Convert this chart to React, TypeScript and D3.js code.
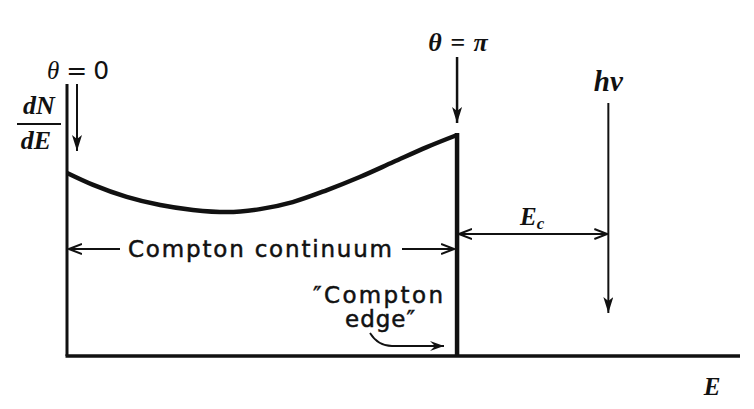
import React, {useEffect, useRef} from "react";
import * as d3 from "d3";

// Compton spectrum (photon energy hv = 662 keV, edge at 477 keV)
const energyKeV = [0, 32, 73, 114, 154, 196, 236, 276, 318, 358, 399, 440, 477];
const countRate = [0.673, 0.629, 0.585, 0.555, 0.537, 0.529, 0.540, 0.566, 0.610, 0.658, 0.713, 0.768, 0.8125];
const photonEnergy = 662;
const comptonEdge = 477;
const axisMaxE = 823;
const axisMaxY = 1.0;

const serif = "'Liberation Serif', 'DejaVu Serif', serif";
const sans = "'DejaVu Sans', 'Liberation Sans', sans-serif";

export default function App() {
    const svgRef = useRef<SVGSVGElement>(null);
    const width = 754;
    const height = 409;

    useEffect(() => {
        const svg = d3.select(svgRef.current);
        svg.selectAll("*").remove();

        const x = d3.scaleLinear().domain([0, axisMaxE]).range([67, 740]);
        const y = d3.scaleLinear().domain([0, axisMaxY]).range([356, 84]);

        const defs = svg.append("defs");
        // filled narrow arrowhead
        defs.append("marker")
            .attr("id", "solid")
            .attr("viewBox", "0 0 16 10")
            .attr("refX", 16).attr("refY", 5)
            .attr("markerWidth", 16).attr("markerHeight", 10)
            .attr("markerUnits", "userSpaceOnUse")
            .attr("orient", "auto")
            .append("path")
            .attr("d", "M0,0 L16,5 L0,10 L4,5 Z")
            .attr("fill", "#111");
        // open V arrowhead
        defs.append("marker")
            .attr("id", "open")
            .attr("viewBox", "0 0 14 12")
            .attr("refX", 13).attr("refY", 6)
            .attr("markerWidth", 14).attr("markerHeight", 12)
            .attr("markerUnits", "userSpaceOnUse")
            .attr("orient", "auto-start-reverse")
            .append("path")
            .attr("d", "M0,1 L13,6 L0,11")
            .attr("fill", "none")
            .attr("stroke", "#111")
            .attr("stroke-width", 2);
        defs.append("marker")
            .attr("id", "barb")
            .attr("viewBox", "0 0 14 10")
            .attr("refX", 14).attr("refY", 5)
            .attr("markerWidth", 14).attr("markerHeight", 10)
            .attr("markerUnits", "userSpaceOnUse")
            .attr("orient", "auto")
            .append("path")
            .attr("d", "M0,0 L14,5 L0,10 L5,5 Z")
            .attr("fill", "#111");

        const g = svg.append("g");

        // axes
        g.append("line")
            .attr("x1", x(0)).attr("x2", x(0))
            .attr("y1", y(axisMaxY)).attr("y2", y(0))
            .attr("stroke", "#111").attr("stroke-width", 3);
        g.append("line")
            .attr("x1", x(0) - 1.5).attr("x2", x(axisMaxE))
            .attr("y1", y(0)).attr("y2", y(0))
            .attr("stroke", "#111").attr("stroke-width", 3.5);

        // continuum
        const data = energyKeV.map((e, i) => ({e, v: countRate[i]}));
        const line = d3.line<{e: number; v: number}>()
            .x(d => x(d.e))
            .y(d => y(d.v))
            .curve(d3.curveMonotoneX);
        g.append("path")
            .datum(data)
            .attr("d", line)
            .attr("fill", "none")
            .attr("stroke", "#111")
            .attr("stroke-width", 4.5);

        // compton edge drop
        const last = data[data.length - 1];
        g.append("line")
            .attr("x1", x(comptonEdge)).attr("x2", x(comptonEdge))
            .attr("y1", y(last.v) - 2).attr("y2", y(0))
            .attr("stroke", "#111").attr("stroke-width", 4.5);

        // theta = 0 arrow
        g.append("line")
            .attr("x1", x(0) + 10).attr("x2", x(0) + 10)
            .attr("y1", 84).attr("y2", 151)
            .attr("stroke", "#111").attr("stroke-width", 2)
            .attr("marker-end", "url(#solid)");
        const t0 = g.append("text").attr("x", 47).attr("y", 79)
            .attr("font-size", 25).attr("fill", "#111");
        t0.append("tspan").attr("font-family", serif).attr("font-style", "italic").text("θ");
        t0.append("tspan").attr("font-family", sans).attr("dx", 7).text("=");
        t0.append("tspan").attr("font-family", sans).attr("dx", 6).text("0");

        // dN/dE
        g.append("text").attr("x", 39).attr("y", 114)
            .attr("text-anchor", "middle")
            .attr("font-family", serif).attr("font-style", "italic").attr("font-weight", "bold")
            .attr("font-size", 26).attr("fill", "#111").text("dN");
        g.append("line").attr("x1", 17).attr("x2", 61).attr("y1", 124).attr("y2", 124)
            .attr("stroke", "#111").attr("stroke-width", 2);
        g.append("text").attr("x", 36).attr("y", 149)
            .attr("text-anchor", "middle")
            .attr("font-family", serif).attr("font-style", "italic").attr("font-weight", "bold")
            .attr("font-size", 26).attr("fill", "#111").text("dE");

        // theta = pi arrow
        g.append("line")
            .attr("x1", x(comptonEdge)).attr("x2", x(comptonEdge))
            .attr("y1", 57).attr("y2", 123)
            .attr("stroke", "#111").attr("stroke-width", 2.5)
            .attr("marker-end", "url(#solid)");
        g.append("text").attr("x", x(comptonEdge) + 1).attr("y", 51)
            .attr("text-anchor", "middle")
            .attr("font-family", serif).attr("font-style", "italic").attr("font-weight", "bold")
            .attr("font-size", 26).attr("fill", "#111")
            .attr("word-spacing", 2).text("θ = π");

        // h nu arrow
        g.append("line")
            .attr("x1", x(photonEnergy)).attr("x2", x(photonEnergy))
            .attr("y1", 103).attr("y2", 313)
            .attr("stroke", "#111").attr("stroke-width", 2)
            .attr("marker-end", "url(#solid)");
        g.append("text").attr("x", x(photonEnergy) + 0).attr("y", 91)
            .attr("text-anchor", "middle")
            .attr("font-family", serif).attr("font-style", "italic").attr("font-weight", "bold")
            .attr("font-size", 29).attr("fill", "#111").text("hν");

        // E_c
        g.append("line")
            .attr("x1", x(comptonEdge) + 2).attr("x2", x(photonEnergy) - 1)
            .attr("y1", 234).attr("y2", 234)
            .attr("stroke", "#111").attr("stroke-width", 2)
            .attr("marker-start", "url(#open)")
            .attr("marker-end", "url(#open)");
        const ec = g.append("text").attr("x", 520).attr("y", 225)
            .attr("font-family", serif).attr("font-style", "italic").attr("font-weight", "bold")
            .attr("font-size", 25).attr("fill", "#111");
        ec.append("tspan").text("E");
        ec.append("tspan").attr("font-size", 17).attr("dy", 4).text("c");

        // Compton continuum
        g.append("line")
            .attr("x1", x(0) + 2).attr("x2", 120)
            .attr("y1", 249).attr("y2", 249)
            .attr("stroke", "#111").attr("stroke-width", 2)
            .attr("marker-start", "url(#open)");
        g.append("line")
            .attr("x1", 402).attr("x2", x(comptonEdge) - 3)
            .attr("y1", 249).attr("y2", 249)
            .attr("stroke", "#111").attr("stroke-width", 2)
            .attr("marker-end", "url(#open)");
        g.append("text").attr("x", 128).attr("y", 257)
            .attr("font-family", sans).attr("font-size", 23).attr("fill", "#111")
            .attr("stroke", "#111").attr("stroke-width", 0.5)
            .attr("textLength", 264).attr("lengthAdjust", "spacing")
            .text("Compton continuum");

        // "Compton edge"
        g.append("text").attr("x", 313).attr("y", 303)
            .attr("font-family", sans).attr("font-size", 23).attr("fill", "#111")
            .attr("stroke", "#111").attr("stroke-width", 0.5)
            .attr("textLength", 130).attr("lengthAdjust", "spacing")
            .text("\u2033Compton");
        g.append("text").attr("x", 345).attr("y", 327)
            .attr("font-family", sans).attr("font-size", 23).attr("fill", "#111")
            .attr("stroke", "#111").attr("stroke-width", 0.5)
            .attr("textLength", 70).attr("lengthAdjust", "spacing")
            .text("edge\u2033");
        g.append("path")
            .attr("d", "M370,333 Q378,346 392,346 L444,346")
            .attr("fill", "none")
            .attr("stroke", "#111").attr("stroke-width", 1.8)
            .attr("marker-end", "url(#barb)");

        // E axis label
        g.append("text").attr("x", 712).attr("y", 395)
            .attr("text-anchor", "middle")
            .attr("font-family", serif).attr("font-style", "italic").attr("font-weight", "bold")
            .attr("font-size", 25).attr("fill", "#111").text("E");
    }, []);

    return (
        <svg ref={svgRef} width={width} height={height}
             style={{position: "absolute", left: 0, top: 0, background: "#fff"}}></svg>
    );
}
